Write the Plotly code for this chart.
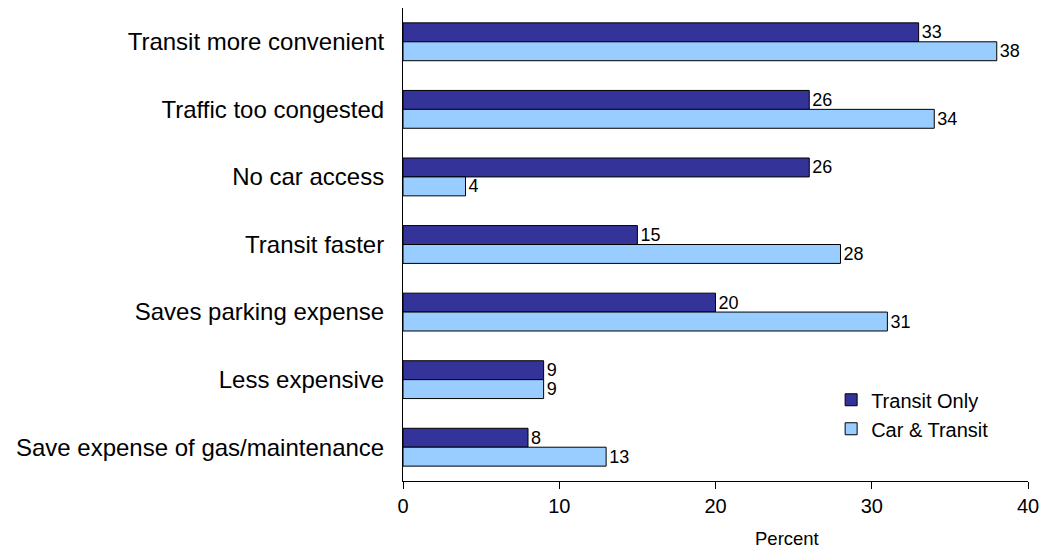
import plotly.graph_objects as go

categories = ["Transit more convenient", "Traffic too congested", "No car access",
              "Transit faster", "Saves parking expense", "Less expensive",
              "Save expense of gas/maintenance"]
transit_only = [33, 26, 26, 15, 20, 9, 8]
car_transit = [38, 34, 4, 28, 31, 9, 13]
x_ticks = [0, 10, 20, 30, 40]

FONT = "Liberation Sans, Arial, sans-serif"

fig = go.Figure()
fig.add_trace(go.Bar(
    y=categories, x=transit_only, orientation="h", name="Transit Only",
    marker=dict(color="#333399", line=dict(color="#000000", width=1)),
    text=transit_only, textposition="outside", cliponaxis=False,
    constraintext="none",
    textfont=dict(size=18, color="#000000", family=FONT),
))
fig.add_trace(go.Bar(
    y=categories, x=car_transit, orientation="h", name="Car & Transit",
    marker=dict(color="#99CCFF", line=dict(color="#000000", width=1)),
    text=car_transit, textposition="outside", cliponaxis=False,
    constraintext="none",
    textfont=dict(size=18, color="#000000", family=FONT),
))

fig.add_annotation(text="Percent", xref="paper", yref="paper",
                   x=0.614, y=-0.1226, xanchor="center", yanchor="middle",
                   showarrow=False, font=dict(size=18.5, family=FONT, color="#000000"))

fig.update_layout(
    width=1047, height=551,
    margin=dict(l=403, r=14, t=8, b=70),
    paper_bgcolor="white", plot_bgcolor="white",
    barmode="group", bargap=0.44, bargroupgap=0,
    font=dict(family=FONT, color="#000000"),
    legend=dict(x=0.685, y=0.213, xanchor="left", yanchor="top",
                font=dict(size=20, family=FONT), bgcolor="rgba(0,0,0,0)",
                itemwidth=30),
    xaxis=dict(range=[0, 40], tickvals=x_ticks, ticks="outside", ticklen=7,
               tickcolor="#000000", showline=True, linecolor="#000000",
               linewidth=1, showgrid=False, zeroline=False,
               tickfont=dict(size=20, family=FONT)),
    yaxis=dict(autorange="reversed", showline=True, linecolor="#000000",
               linewidth=1, ticks="", showgrid=False,
               tickfont=dict(size=24, family=FONT), ticklabelstandoff=13),
)

fig.write_html("out.html", config={"displayModeBar": False},
               post_script="document.body.style.margin='0';document.body.style.overflow='hidden';")
